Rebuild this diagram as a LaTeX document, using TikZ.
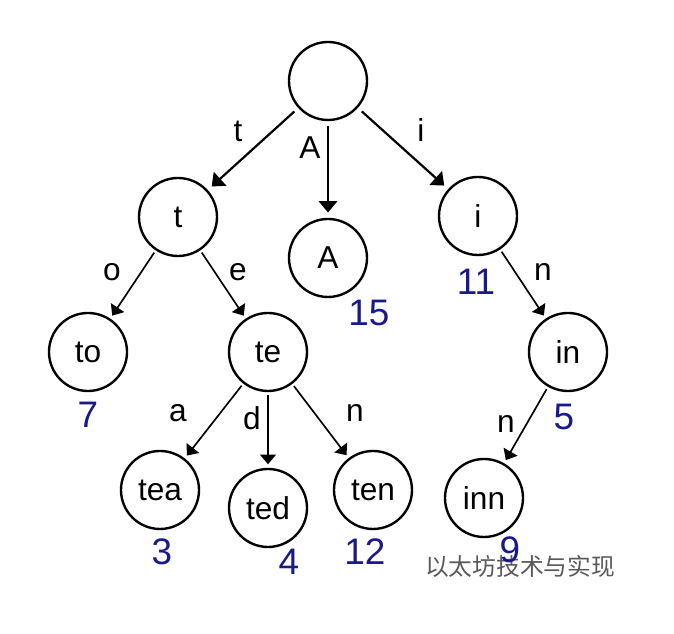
\documentclass[tikz,border=0pt]{standalone}
\usepackage{fontspec}
\setmainfont{Liberation Sans}
\newfontfamily\cjk{Noto Sans CJK SC}
\usetikzlibrary{arrows.meta}
\definecolor{cntblue}{RGB}{25,25,140}
\tikzset{
    trie/.style={circle, draw, line width=1.35pt, minimum size=1.56cm, inner sep=0pt,
        font=\fontsize{18}{18}\selectfont},
    lbl/.style={font=\fontsize{18}{18}\selectfont},
    cnt/.style={text=cntblue, font=\fontsize{21}{21}\selectfont},
    toparr/.style={line width=1.25pt, -{Triangle[length=6.5pt,width=10.5pt]},
        shorten <=3pt, shorten >=3pt},
    arr/.style={line width=0.95pt, -{Triangle[length=5.5pt,width=9pt]},
        shorten <=1.5pt, shorten >=2pt},
}
\begin{document}
\begin{tikzpicture}
    \useasboundingbox (0,0) rectangle (13.48,12.68);
    % trie nodes
    \node[trie] (r) at (6.56, 11.06) {};
    \node[trie] (t) at (3.56, 8.34) {t};
    \node[trie] (A) at (6.56, 7.52) {A};
    \node[trie] (i) at (9.56, 8.36) {i};
    \node[trie] (to) at (1.76, 5.64) {to};
    \node[trie] (te) at (5.36, 5.64) {te};
    \node[trie] (in) at (11.36, 5.64) {in};
    \node[trie] (tea) at (3.20, 2.88) {tea};
    \node[trie] (ted) at (5.36, 2.52) {ted};
    \node[trie] (ten) at (7.46, 2.88) {ten};
    \node[trie] (inn) at (9.68, 2.72) {inn};
    % edges
    \draw[toparr] (r) -- (t);
    \draw[toparr] (r) -- (A);
    \draw[toparr] (r) -- (i);
    \draw[arr] (t) -- (to);
    \draw[arr] (t) -- (te);
    \draw[arr] (te) -- (tea);
    \draw[arr] (te) -- (ted);
    \draw[arr] (te) -- (ten);
    \draw[arr] (i) -- (in);
    \draw[arr] (in) -- (inn);
    % edge letters
    \node[lbl] (lt) at (4.76, 10.06) {t};
    \node[lbl] (lA) at (6.20, 9.72) {A};
    \node[lbl] (li) at (8.42, 10.08) {i};
    \node[lbl] (lo) at (2.24, 7.24) {o};
    \node[lbl] (le) at (4.76, 7.24) {e};
    \node[lbl] (la) at (3.56, 4.42) {a};
    \node[lbl] (ld) at (5.04, 4.32) {d};
    \node[lbl] (ln) at (7.10, 4.42) {n};
    \node[lbl] (ln2) at (10.86, 7.24) {n};
    \node[lbl] (ln3) at (10.12, 4.20) {n};
    % watermark
    \node[text=black!65, font=\cjk\fontsize{13.5}{13.5}\selectfont] (wm) at (10.40, 1.36) {以太坊技术与实现};
    % counts
    \node[cnt] (c15) at (7.38, 6.42) {15};
    \node[cnt] (c11) at (9.52, 7.04) {11};
    \node[cnt] (c7) at (1.76, 4.38) {7};
    \node[cnt] (c5) at (11.28, 4.34) {5};
    \node[cnt] (c3) at (3.24, 1.64) {3};
    \node[cnt] (c4) at (5.78, 1.44) {4};
    \node[cnt] (c12) at (7.30, 1.64) {12};
    \node[cnt] (c9) at (10.20, 1.68) {9};
\end{tikzpicture}
\end{document}
